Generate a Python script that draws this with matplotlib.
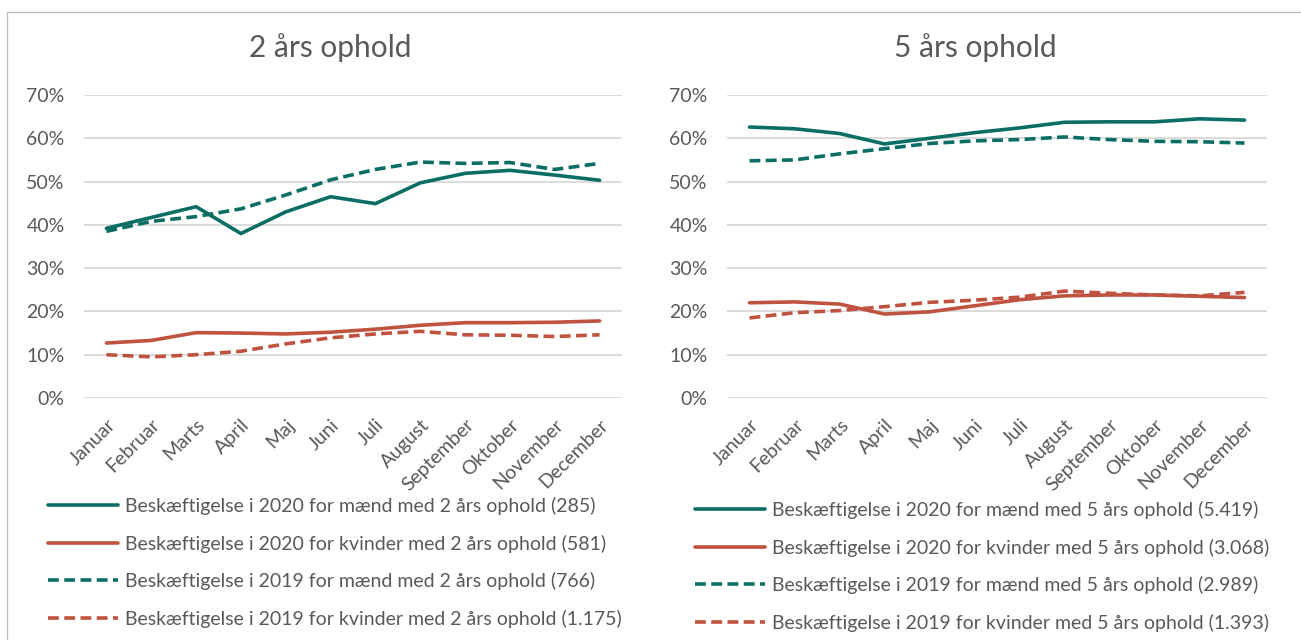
import matplotlib
matplotlib.use("Agg")
import matplotlib.pyplot as plt
from matplotlib.patches import Rectangle

plt.rcParams['font.family'] = ['Lato', 'DejaVu Sans']

months = ["Januar", "Februar", "Marts", "April", "Maj", "Juni", "Juli",
          "August", "September", "Oktober", "November", "December"]

# 2 års ophold (percent)
men2_2020 = [39.2, 41.7, 44.2, 38.0, 43.0, 46.5, 44.9, 49.7, 51.9, 52.6, 51.5, 50.3]
women2_2020 = [12.7, 13.3, 15.1, 15.0, 14.8, 15.2, 15.9, 16.8, 17.4, 17.4, 17.5, 17.8]
men2_2019 = [38.5, 40.8, 41.9, 43.7, 46.9, 50.4, 52.8, 54.5, 54.2, 54.4, 52.8, 54.2]
women2_2019 = [10.0, 9.5, 10.0, 10.8, 12.5, 13.9, 14.8, 15.4, 14.6, 14.5, 14.2, 14.6]

# 5 års ophold (percent)
men5_2020 = [62.6, 62.2, 61.1, 58.7, 60.0, 61.3, 62.4, 63.7, 63.8, 63.8, 64.5, 64.2]
women5_2020 = [22.0, 22.2, 21.7, 19.4, 19.9, 21.3, 22.7, 23.6, 23.8, 23.8, 23.5, 23.2]
men5_2019 = [54.8, 55.0, 56.4, 57.6, 58.8, 59.4, 59.7, 60.3, 59.7, 59.3, 59.2, 58.9]
women5_2019 = [18.5, 19.7, 20.2, 21.1, 22.1, 22.6, 23.3, 24.7, 24.2, 23.8, 23.6, 24.4]

titles = ["2 års ophold", "5 års ophold"]
labels2 = ["Beskæftigelse i 2020 for mænd med 2 års ophold (285)",
           "Beskæftigelse i 2020 for kvinder med 2 års ophold (581)",
           "Beskæftigelse i 2019 for mænd med 2 års ophold (766)",
           "Beskæftigelse i 2019 for kvinder med 2 års ophold (1.175)"]
labels5 = ["Beskæftigelse i 2020 for mænd med 5 års ophold (5.419)",
           "Beskæftigelse i 2020 for kvinder med 5 års ophold (3.068)",
           "Beskæftigelse i 2019 for mænd med 5 års ophold (2.989)",
           "Beskæftigelse i 2019 for kvinder med 5 års ophold (1.393)"]

TEAL = "#0B6E64"
RED = "#BF5340"
TXT = "#595959"
GRID = "#D9D9D9"

W, H = 1301, 640
fig = plt.figure(figsize=(W / 100, H / 100), dpi=100)

# outer frame
fig.patches.append(Rectangle((7 / W, -0.1), 1.2, (H - 12) / H + 0.1, transform=fig.transFigure,
                             fill=False, edgecolor="#BFBFBF", linewidth=1.0))

def px_axes(x0, x1, ytop, ybot):
    return fig.add_axes([x0 / W, 1 - ybot / H, (x1 - x0) / W, (ybot - ytop) / H])

panels = [
    (px_axes(84, 622, 95, 398), [men2_2020, women2_2020, men2_2019, women2_2019], labels2,
     titles[0], 330, (48, 497)),
    (px_axes(727, 1267, 95, 398), [men5_2020, women5_2020, men5_2019, women5_2019], labels5,
     titles[1], 975, (695, 501)),
]

styles = [(TEAL, "-"), (RED, "-"), (TEAL, (0, (3.0, 1.5))), (RED, (0, (3.0, 1.5)))]

for ax, series, labels, title, tx, (lx, ly) in panels:
    x = list(range(len(months)))
    handles = []
    for vals, (c, ls), lab in zip(series, styles, labels):
        ln, = ax.plot(x, [v / 100 for v in vals], color=c, linestyle=ls, linewidth=2.6,
                      solid_capstyle="round", dash_capstyle="butt", label=lab, zorder=3)
        handles.append(ln)
    ax.set_xlim(-0.5, 11.5)
    ax.set_ylim(0, 0.7)
    ax.set_yticks([i / 10 for i in range(8)])
    ax.set_yticklabels([f"{i * 10}%" for i in range(8)], color=TXT, fontsize=14)
    ax.set_xticks(x)
    ax.set_xticklabels(months, rotation=45, ha="right", rotation_mode="anchor",
                       color=TXT, fontsize=14)
    ax.tick_params(axis="y", length=0, pad=14)
    ax.tick_params(axis="x", length=0, pad=13)
    ax.grid(axis="y", color=GRID, linewidth=1.3)
    ax.set_axisbelow(True)
    for s in ax.spines.values():
        s.set_visible(False)
    fig.text(tx / W, 1 - 48 / H, title, ha="center", va="center", fontsize=21.5, color=TXT)
    fig.legend(handles=handles, loc="upper left", bbox_to_anchor=(lx / W, 1 - ly / H),
               frameon=False, fontsize=14, labelcolor=TXT, handlelength=3.6,
               handletextpad=0.35, labelspacing=1.0, borderaxespad=0, borderpad=0)

fig.savefig("out.png", dpi=100)
